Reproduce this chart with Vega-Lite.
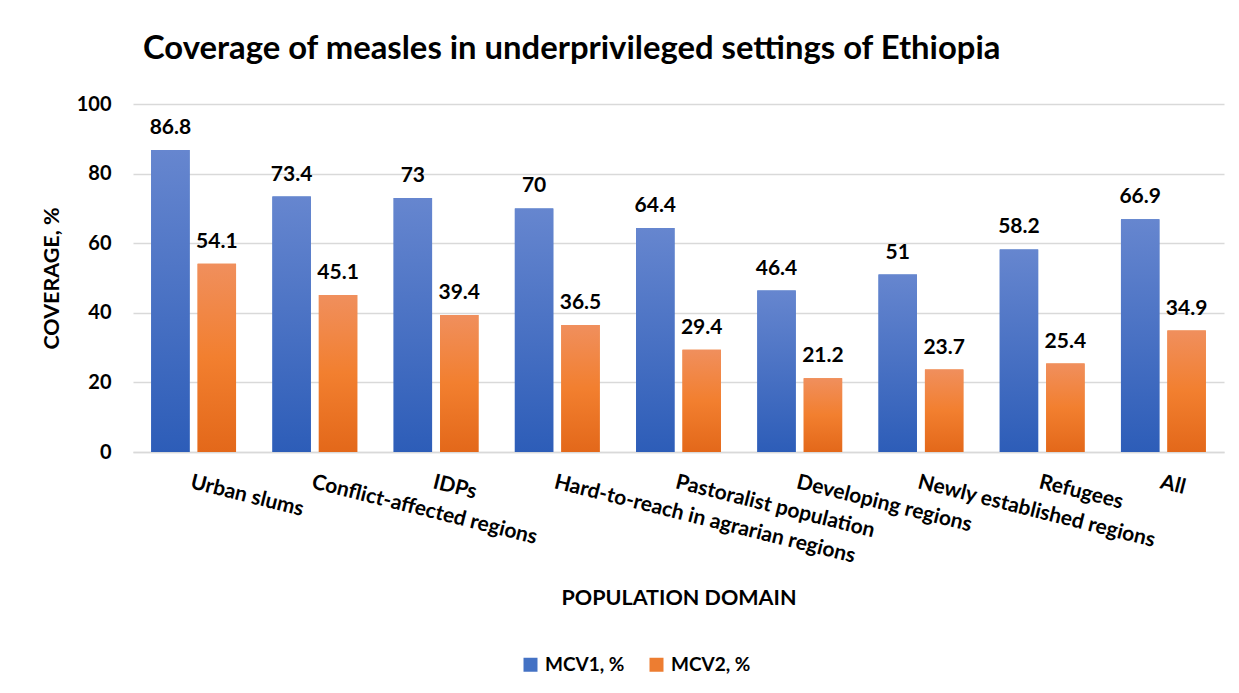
{
  "$schema": "https://vega.github.io/schema/vega-lite/v6.json",
  "width": 1091,
  "height": 348,
  "autosize": {"type": "none"},
  "padding": {"left": 133, "top": 104, "right": 15, "bottom": 241},
  "background": "white",
  "title": {
    "text": "Coverage of measles in underprivileged settings of Ethiopia",
    "anchor": "start",
    "frame": "group",
    "font": "Lato",
    "fontSize": 32.8,
    "fontWeight": "bold",
    "color": "#000000",
    "dx": 10,
    "offset": 28
  },
  "config": {
    "view": {"stroke": null},
    "font": "Lato"
  },
  "data": {
    "values": [
      {"domain": "Urban slums", "series": "MCV1, %", "value": 86.8},
      {"domain": "Urban slums", "series": "MCV2, %", "value": 54.1},
      {"domain": "Conflict-affected regions", "series": "MCV1, %", "value": 73.4},
      {"domain": "Conflict-affected regions", "series": "MCV2, %", "value": 45.1},
      {"domain": "IDPs", "series": "MCV1, %", "value": 73},
      {"domain": "IDPs", "series": "MCV2, %", "value": 39.4},
      {"domain": "Hard-to-reach in agrarian regions", "series": "MCV1, %", "value": 70},
      {"domain": "Hard-to-reach in agrarian regions", "series": "MCV2, %", "value": 36.5},
      {"domain": "Pastoralist population", "series": "MCV1, %", "value": 64.4},
      {"domain": "Pastoralist population", "series": "MCV2, %", "value": 29.4},
      {"domain": "Developing regions", "series": "MCV1, %", "value": 46.4},
      {"domain": "Developing regions", "series": "MCV2, %", "value": 21.2},
      {"domain": "Newly established regions", "series": "MCV1, %", "value": 51},
      {"domain": "Newly established regions", "series": "MCV2, %", "value": 23.7},
      {"domain": "Refugees", "series": "MCV1, %", "value": 58.2},
      {"domain": "Refugees", "series": "MCV2, %", "value": 25.4},
      {"domain": "All", "series": "MCV1, %", "value": 66.9},
      {"domain": "All", "series": "MCV2, %", "value": 34.9}
    ]
  },
  "encoding": {
    "x": {
      "field": "domain",
      "type": "nominal",
      "sort": null,
      "scale": {"paddingInner": 0.3, "paddingOuter": 0.15},
      "axis": {
        "title": "POPULATION DOMAIN",
        "titleFont": "Lato",
        "titleFontSize": 21.5,
        "titleFontWeight": "bold",
        "titleColor": "#000000",
        "titlePadding": 21,
        "labelAngle": 14,
        "labelAlign": "left",
        "labelBaseline": "top",
        "labelFont": "Lato",
        "labelFontSize": 21,
        "labelFontWeight": "bold",
        "labelColor": "#000000",
        "labelPadding": 19,
        "labelLimit": 400,
        "ticks": false,
        "domainColor": "#d9d9d9",
        "domainWidth": 1.5,
        "grid": false
      }
    },
    "xOffset": {"field": "series", "type": "nominal", "sort": ["MCV1, %", "MCV2, %"], "scale": {"paddingInner": 0.172}},
    "y": {
      "field": "value",
      "type": "quantitative",
      "scale": {"domain": [0, 100]},
      "axis": {
        "title": "COVERAGE, %",
        "titleFont": "Lato",
        "titleFontSize": 21.5,
        "titleFontWeight": "bold",
        "titleColor": "#000000",
        "titlePadding": 13,
        "values": [0, 20, 40, 60, 80, 100],
        "labelFont": "Lato",
        "labelFontSize": 20,
        "labelFontWeight": "bold",
        "labelColor": "#000000",
        "labelPadding": 22,
        "ticks": false,
        "domain": false,
        "gridColor": "#d9d9d9",
        "gridWidth": 1.5
      }
    }
  },
  "layer": [
    {
      "mark": {"type": "bar"},
      "encoding": {
        "color": {
          "field": "series",
          "type": "nominal",
          "scale": {"domain": ["MCV1, %", "MCV2, %"], "range": ["#4472c4", "#ed7d31"]},
          "legend": {
            "title": null,
            "orient": "none",
            "direction": "horizontal",
            "legendX": 388,
            "legendY": 551,
            "symbolType": "square",
            "symbolSize": 196,
            "symbolStrokeWidth": 0,
            "labelFont": "Lato",
            "labelFontSize": 19,
            "labelFontWeight": "bold",
            "labelColor": "#000000",
            "labelOffset": 5,
            "columnPadding": 22
          }
        }
      }
    },
    {
      "transform": [{"filter": "datum.series === 'MCV1, %'"}],
      "mark": {
        "type": "bar",
        "color": {"gradient": "linear", "x1": 0, "y1": 0, "x2": 0, "y2": 1, "stops": [{"offset": 0, "color": "#6686cf"}, {"offset": 1, "color": "#2d5db8"}]}
      }
    },
    {
      "transform": [{"filter": "datum.series === 'MCV2, %'"}],
      "mark": {
        "type": "bar",
        "color": {"gradient": "linear", "x1": 0, "y1": 0, "x2": 0, "y2": 1, "stops": [{"offset": 0, "color": "#f08f5d"}, {"offset": 0.5, "color": "#f27f2f"}, {"offset": 1, "color": "#e3681a"}]}
      }
    },
    {
      "mark": {"type": "text", "baseline": "alphabetic", "dy": -16, "font": "Lato", "fontSize": 21, "fontWeight": "bold", "color": "#000000"},
      "encoding": {
        "text": {"field": "value", "type": "quantitative"}
      }
    }
  ]
}
